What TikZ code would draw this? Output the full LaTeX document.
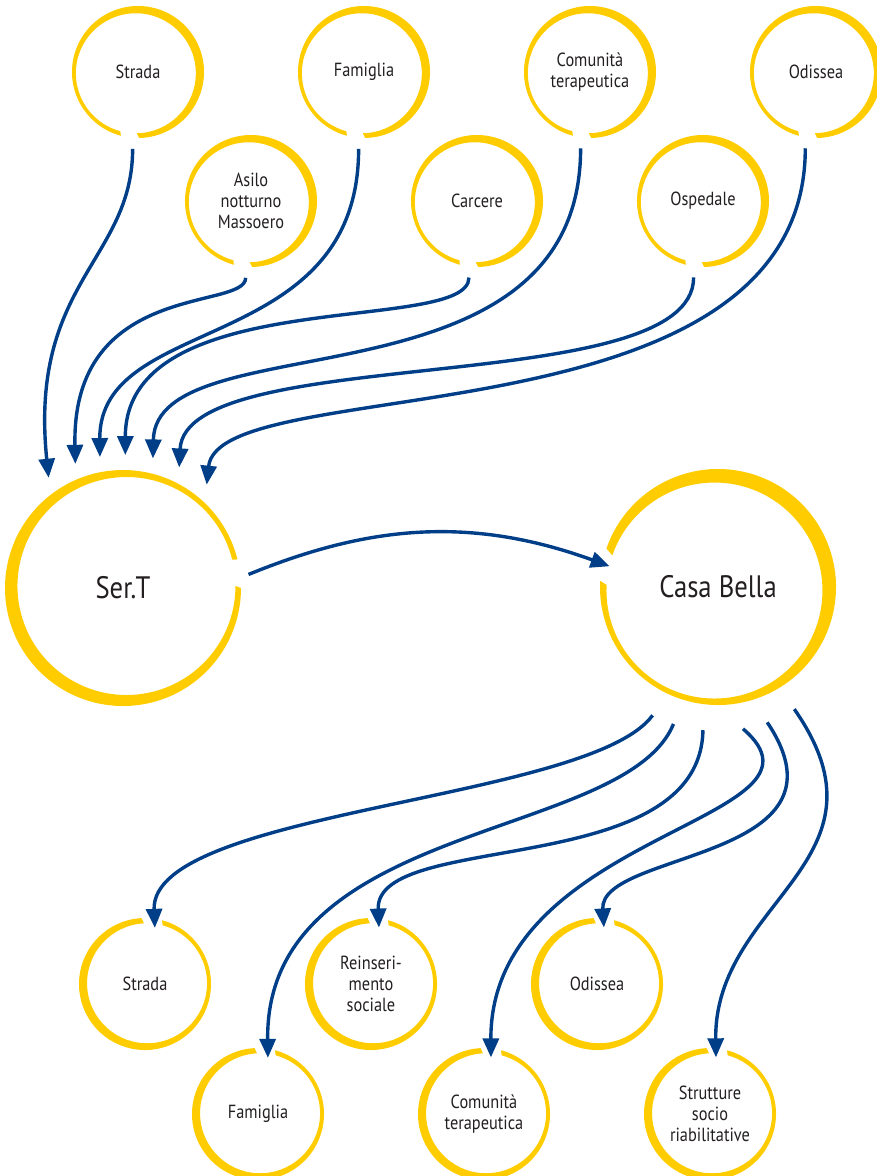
\documentclass[tikz,border=0pt]{standalone}
\usepackage{fontspec}
\setmainfont{PT Sans}[FakeStretch=0.86]
\usetikzlibrary{positioning,calc,arrows.meta}

\definecolor{ringyellow}{RGB}{255,204,0}
\definecolor{arrowblue}{RGB}{0,62,135}
\definecolor{textgray}{RGB}{35,31,32}

% node, radius, gap angle, half gap, thickness, offset, thick side
\newcommand{\ring}[7]{%
  \fill[ringyellow] ($(#1.center)+(#3+#4:#2)$) arc[start angle=#3+#4, end angle=#3+360-#4, radius=#2]
    -- ($(#1.center)+(#7+180:#6)+(#3-#4:#2-#5)$) arc[start angle=#3-#4, end angle=#3-360+#4, radius=#2-#5] -- cycle;}

\begin{document}
\begin{tikzpicture}[
    x=1pt, y=-1pt,
    small/.style={circle, minimum size=132pt, inner sep=0pt, outer sep=11pt, align=center, text=textgray, font=\fontsize{19}{21}\selectfont},
    target/.style={small, outer sep=-9pt},
    big/.style={circle, minimum size=236pt, inner sep=0pt, align=center, text=textgray, font=\fontsize{31}{36}\selectfont},
    arrow/.style={-{Triangle[length=19pt,width=16pt]}, line width=3.4pt, draw=arrowblue}
]
\useasboundingbox (0,0) rectangle (877,1176);

\node[small] (strada1) at (138,72) {Strada};
\node[small, right=72pt of strada1] (famiglia1) {Famiglia};
\node[small, right=72pt of famiglia1] (comunita1) {Comunità\\terapeutica};
\node[small, right=72pt of comunita1] (odissea1) {Odissea};

\node[small] (asilo) at (251,201) {Asilo\\notturno\\Massoero};
\node[small, right=72pt of asilo] (carcere) {Carcere};
\node[small, right=72pt of carcere] (ospedale) {Ospedale};

\node[big, outer sep=15pt] (sert) at (123,588) {Ser.T};
\node[big, outer sep=26pt] (casabella) at (718,587) {Casa Bella};

\node[target] (strada2) at (145,984) {Strada};
\node[target, right=112pt of strada2] (reinserimento) {Reinseri-\\mento\\sociale};
\node[target, right=112pt of reinserimento] (odissea2) {Odissea};

\node[target] (famiglia2) at (258,1114) {Famiglia};
\node[target, right=112pt of famiglia2] (comunita2) {Comunità\\terapeutica};
\node[target, right=112pt of comunita2] (strutture) {Strutture\\socio\\riabilitative};

% yellow rings
\foreach \n in {strada1,famiglia1,comunita1,odissea1,asilo,carcere,ospedale}
  {\ring{\n}{66}{97}{8}{6}{2.5}{-30}}
\foreach \n in {strada2,reinserimento,odissea2,famiglia2,comunita2,strutture}
  {\ring{\n}{66}{-84}{9}{6}{2.2}{160}}
\ring{sert}{118}{-7}{7}{9}{4}{150}
\ring{casabella}{118}{191}{8}{10}{5}{-45}

\draw[arrow] (strada1.-94) .. controls +(0,111) and +(-20,-195) .. (sert.124);
\draw[arrow] (asilo.-94) .. controls +(0,33) and +(-4,-184) .. (sert.111);
\draw[arrow] (famiglia1.-94) .. controls +(0,208) and +(-1,-145) .. (sert.100);
\draw[arrow] (carcere.-96) .. controls +(0,58) and +(0,-173) .. (sert.89);
\draw[arrow] (comunita1.-97) .. controls +(0,268) and +(3,-139) .. (sert.77);
\draw[arrow] (ospedale.-97) .. controls +(0,123) and +(6,-126) .. (sert.65);
\draw[arrow] (odissea1.-98) .. controls +(0,300) and +(12,-115) .. (sert.51);

\draw[arrow, shorten <=-7pt, shorten >=-34pt] (sert.7) .. controls +(110,-45) and +(-110,-40) .. (casabella.167);

\draw[arrow] (casabella.-117) .. controls +(-63,86) and +(-5,-118) .. (strada2.80);
\draw[arrow] (casabella.-108) .. controls +(-48,117) and +(-3,-238) .. (famiglia2.80);
\draw[arrow] (casabella.-96) .. controls +(-3,151) and +(-4,-98) .. (reinserimento.82);
\draw[arrow] (casabella.-80) .. controls +(107,92) and +(-1,-227) .. (comunita2.83);
\draw[arrow] (casabella.-70) .. controls +(93,139) and +(-5,-77) .. (odissea2.83);
\draw[arrow] (casabella.-58) .. controls +(106,152) and +(-2,-157) .. (strutture.84);

\end{tikzpicture}
\end{document}
